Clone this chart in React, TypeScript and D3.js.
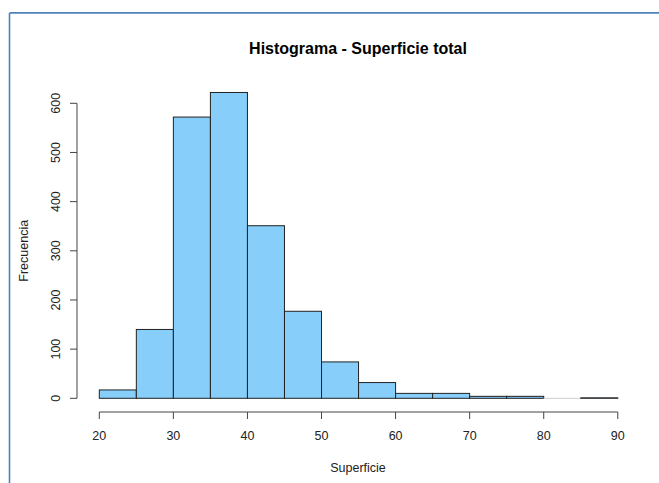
import React from "react";
import * as d3 from "d3";

const binStarts = [20, 25, 30, 35, 40, 45, 50, 55, 60, 65, 70, 75, 80, 85];
const binWidth = 5;
const counts = [17, 140, 572, 622, 351, 177, 74, 32, 10, 10, 4, 4, 0, 1];
const xTicks = [20, 30, 40, 50, 60, 70, 80, 90];
const yTicks = [0, 100, 200, 300, 400, 500, 600];
const title = "Histograma - Superficie total";
const xLabel = "Superficie";
const yLabel = "Frecuencia";

export default function App() {
  const W = 659, H = 483;
  const x = d3.scaleLinear().domain([20, 90]).range([99.3, 617.8]);
  const y = d3.scaleLinear().domain([0, 600]).range([398.3, 103.3]);
  const font = "'Liberation Sans', Arial, sans-serif";
  const axisColor = "#444";
  return (
    <svg width={W} height={H} style={{ position: "absolute", left: 0, top: 0, background: "#fff" }}>
      <rect x={0} y={0} width={W} height={H} fill="#fff" />
      <line x1={9.5} y1={12.9} x2={W} y2={12.9} stroke="#4F81BD" strokeWidth={1.6} />
      <line x1={9.5} y1={12.9} x2={9.5} y2={H} stroke="#4F81BD" strokeWidth={1.6} />
      <text x={358} y={53.5} textAnchor="middle" fontFamily={font} fontWeight="bold" fontSize={16} fill="#000">{title}</text>
      {binStarts.map((b, i) => (
        counts[i] > 0 ? (
          <rect key={i} x={x(b)} y={y(counts[i])} width={x(b + binWidth) - x(b)} height={y(0) - y(counts[i])}
            fill="#87CEFA" stroke="#222" strokeWidth={1} />
        ) : (
          <line key={i} x1={x(b)} y1={y(0)} x2={x(b + binWidth)} y2={y(0)} stroke="#ccc" strokeWidth={1} />
        )
      ))}
      <line x1={x(20)} y1={412} x2={x(90)} y2={412} stroke={axisColor} strokeWidth={1} />
      {xTicks.map(t => (
        <g key={t}>
          <line x1={x(t)} y1={412} x2={x(t)} y2={419} stroke={axisColor} strokeWidth={1} />
          <text x={x(t)} y={440} textAnchor="middle" fontFamily={font} fontSize={12.5} fill="#222">{t}</text>
        </g>
      ))}
      <line x1={77} y1={y(0)} x2={77} y2={y(600)} stroke={axisColor} strokeWidth={1} />
      {yTicks.map(t => (
        <g key={t}>
          <line x1={70} y1={y(t)} x2={77} y2={y(t)} stroke={axisColor} strokeWidth={1} />
          <text transform={`translate(60,${y(t)}) rotate(-90)`} textAnchor="middle" fontFamily={font} fontSize={12.5} fill="#222">{t}</text>
        </g>
      ))}
      <text x={358} y={472} textAnchor="middle" fontFamily={font} fontSize={12.5} fill="#222">{xLabel}</text>
      <text transform={`translate(28,${(y(0) + y(600)) / 2}) rotate(-90)`} textAnchor="middle" fontFamily={font} fontSize={12.5} fill="#222">{yLabel}</text>
    </svg>
  );
}
